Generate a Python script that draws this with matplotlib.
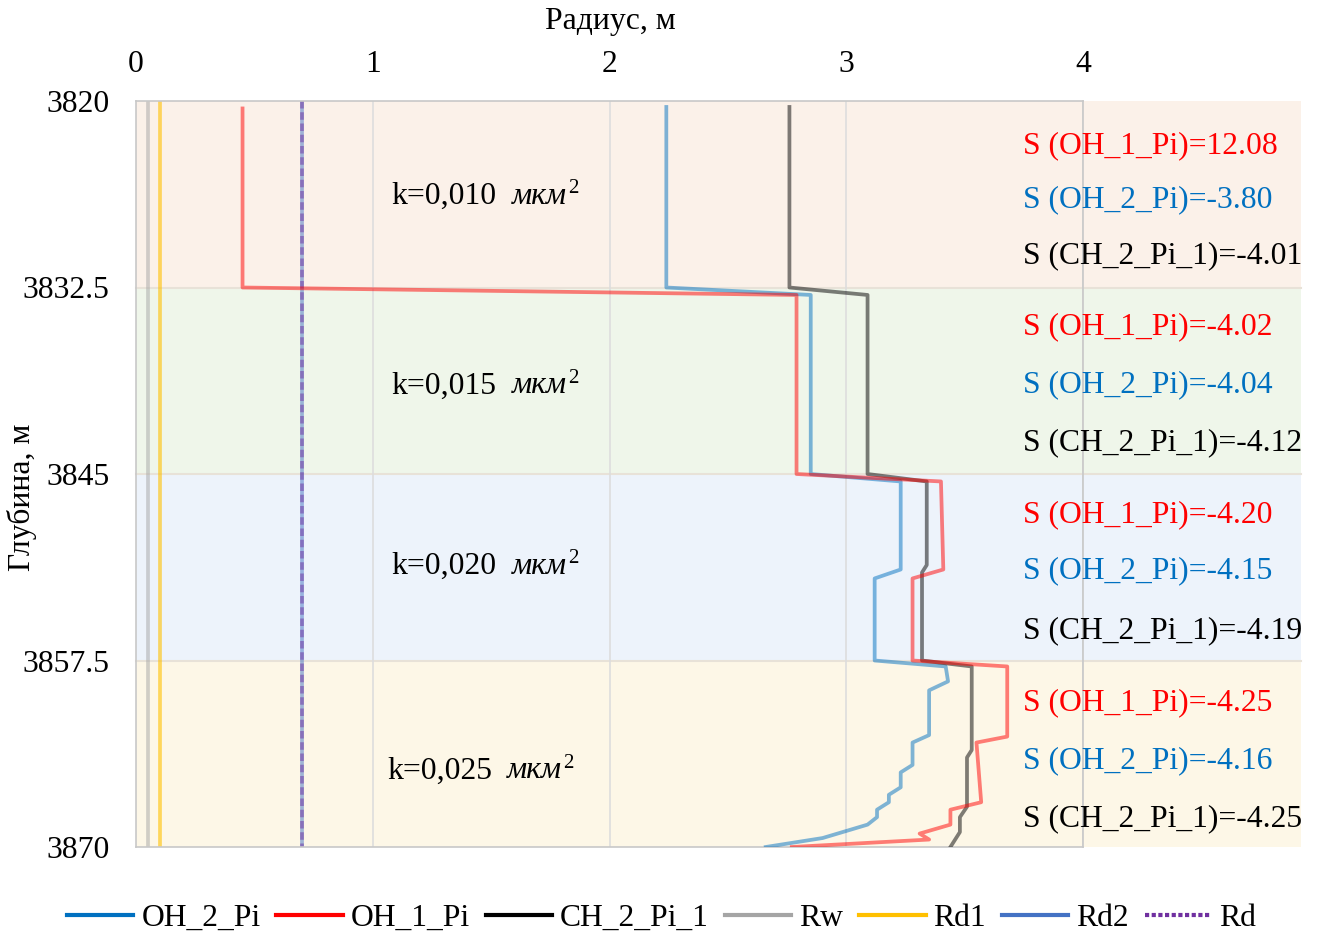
import matplotlib
matplotlib.use('Agg')
import matplotlib.pyplot as plt
from matplotlib.patches import Rectangle
from matplotlib.lines import Line2D

plt.rcParams['font.family'] = ['Liberation Serif', 'DejaVu Serif']

# ---------------- data ----------------
depth_ticks = [3820, 3832.5, 3845, 3857.5, 3870]
radius_ticks = [0, 1, 2, 3, 4]
band_edges = [3820, 3832.5, 3845, 3857.5, 3870]
band_colors = ['#FBF1E9', '#EFF6EA', '#EDF3FB', '#FDF7E7']
k_values = ['k=0,010', 'k=0,015', 'k=0,020', 'k=0,025']
k_depth = [3826.4, 3839.1, 3851.2, 3864.9]
s_oh1 = ['12.08', '-4.02', '-4.20', '-4.25']
s_oh2 = ['-3.80', '-4.04', '-4.15', '-4.16']
s_ch2 = ['-4.01', '-4.12', '-4.19', '-4.25']
s_depth_oh1 = [3823.0, 3835.1, 3847.7, 3860.3]
s_depth_oh2 = [3826.6, 3839.0, 3851.5, 3864.2]
s_depth_ch2 = [3830.4, 3842.9, 3855.5, 3868.1]

oh1_r = [0.45, 0.45, 2.79, 2.79, 3.40, 3.41, 3.28, 3.28, 3.68, 3.68, 3.55, 3.57,
         3.44, 3.44, 3.31, 3.35, 2.77]
oh1_d = [3820.5, 3832.5, 3833.0, 3845.0, 3845.5, 3851.4, 3852.0, 3857.5, 3857.9,
         3862.6, 3863.0, 3867.0, 3867.5, 3868.5, 3869.1, 3869.5, 3870.0]

oh2_r = [2.24, 2.24, 2.85, 2.85, 3.23, 3.23, 3.12, 3.12, 3.42, 3.43, 3.35, 3.35,
         3.28, 3.28, 3.23, 3.23, 3.18, 3.18, 3.13, 3.13, 3.09, 2.90, 2.66]
oh2_d = [3820.4, 3832.5, 3833.0, 3845.0, 3845.5, 3851.4, 3852.0, 3857.5, 3857.9,
         3858.9, 3859.5, 3862.5, 3863.0, 3864.5, 3865.0, 3866.0, 3866.5, 3867.0,
         3867.5, 3868.0, 3868.5, 3869.4, 3870.0]

ch2_r = [2.76, 2.76, 3.09, 3.09, 3.34, 3.34, 3.32, 3.32, 3.53, 3.53, 3.51, 3.51,
         3.48, 3.48, 3.44]
ch2_d = [3820.4, 3832.5, 3833.0, 3845.0, 3845.5, 3851.1, 3851.6, 3857.5, 3857.9,
         3863.5, 3864.0, 3867.3, 3868.0, 3869.0, 3870.0]

rw_r = [0.05, 0.05]
rd1_r = [0.10, 0.10]
rd2_r = [0.70, 0.70]
rd_r = [0.70, 0.70]
full_d = [3820, 3870]

names = ['OH_2_Pi', 'OH_1_Pi', 'CH_2_Pi_1', 'Rw', 'Rd1', 'Rd2', 'Rd']
colors = ['#0070C0', '#FF0000', '#000000', '#A5A5A5', '#FFC000', '#4472C4', '#7030A0']

# ---------------- figure ----------------
W, H = 1323, 932
fig = plt.figure(figsize=(W / 100, H / 100), dpi=100)
ax = fig.add_axes([136 / W, 1 - 847 / H, 947 / W, 746 / H])

FS = 22.8
x_right = 4.92

# background bands
for i in range(4):
    ax.add_patch(Rectangle((0, band_edges[i]), x_right, band_edges[i + 1] - band_edges[i],
                           facecolor=band_colors[i], edgecolor='none', zorder=0,
                           clip_on=False))
for b in band_edges[1:-1]:
    ax.plot([0, x_right], [b, b], color='#E8E2D8', lw=1.5, zorder=0.5, clip_on=False)

# vertical grid
for xv in radius_ticks[1:]:
    ax.axvline(xv, color='#DDDDDD', lw=1.2, zorder=0.6)

lw = 2.7
ax.plot(rw_r, full_d, color=colors[3], lw=lw, alpha=0.5, zorder=2)
ax.plot(rd1_r, full_d, color=colors[4], lw=lw, alpha=0.6, zorder=2)
ax.plot(rd2_r, full_d, color=colors[5], lw=lw, alpha=0.5, zorder=2)
ax.plot(rd_r, full_d, color=colors[6], lw=lw, alpha=0.5, ls=(0, (2, 1)), zorder=2.1)
ax.plot(oh2_r, oh2_d, color=colors[0], lw=lw, alpha=0.5, zorder=3)
ax.plot(ch2_r, ch2_d, color=colors[2], lw=lw, alpha=0.5, zorder=3.1)
ax.plot(oh1_r, oh1_d, color=colors[1], lw=lw, alpha=0.5, zorder=3.2)

ax.set_xlim(0, 4)
ax.set_ylim(3870, 3820)
ax.xaxis.tick_top()
ax.set_xticks(radius_ticks)
ax.set_xticklabels([str(v) for v in radius_ticks])
ax.set_yticks(depth_ticks)
ax.set_yticklabels(['3820', '3832.5', '3845', '3857.5', '3870'])
ax.tick_params(axis='x', length=0, pad=16, labelsize=FS)
ax.tick_params(axis='y', length=0, pad=19, labelsize=FS)
for sp in ax.spines.values():
    sp.set_color('#C8C8C8')
    sp.set_linewidth(1.2)
ax.set_facecolor('white')

fig.text(610 / W, 1 - 22 / H, 'Радиус, м', ha='center', va='center', fontsize=FS)
fig.text(22 / W, 1 - 497 / H, 'Глубина, м', ha='center', va='center', fontsize=FS,
         rotation=90)

# k labels
for i in range(4):
    kx = 1.08 if i < 3 else 1.06
    t1 = ax.text(kx, k_depth[i], k_values[i], ha='left', va='center', fontsize=FS, zorder=5)
    t2 = ax.annotate('мкм', xy=(1, 0), xycoords=t1, xytext=(11, 0),
                     textcoords='offset points', ha='left', va='bottom',
                     fontsize=FS, style='italic', zorder=5)
    ax.annotate('2', xy=(1, 1), xycoords=t2, xytext=(0.5, 2),
                textcoords='offset points', ha='left', va='top',
                fontsize=15, zorder=5)

# S labels
sx = 3.745
for i in range(4):
    ax.text(sx, s_depth_oh1[i], 'S (OH_1_Pi)=' + s_oh1[i], color='#FF0000',
            ha='left', va='center', fontsize=FS, clip_on=False, zorder=5)
    ax.text(sx, s_depth_oh2[i], 'S (OH_2_Pi)=' + s_oh2[i], color='#0070C0',
            ha='left', va='center', fontsize=FS, clip_on=False, zorder=5)
    ax.text(sx, s_depth_ch2[i], 'S (CH_2_Pi_1)=' + s_ch2[i], color='#000000',
            ha='left', va='center', fontsize=FS, clip_on=False, zorder=5)

# legend
handles = []
for n, c in zip(names, colors):
    if n == 'Rd':
        handles.append(Line2D([], [], color=c, lw=3, ls=(0, (1, 0.6)), label=n))
    else:
        handles.append(Line2D([], [], color=c, lw=3, label=n))
fig.legend(handles=handles, loc='center', bbox_to_anchor=(0.5, 1 - 918 / H), ncol=7,
           frameon=False, fontsize=FS, handlelength=2.1, handletextpad=0.25,
           columnspacing=0.5, borderaxespad=0)

fig.savefig('out.png', dpi=100)
